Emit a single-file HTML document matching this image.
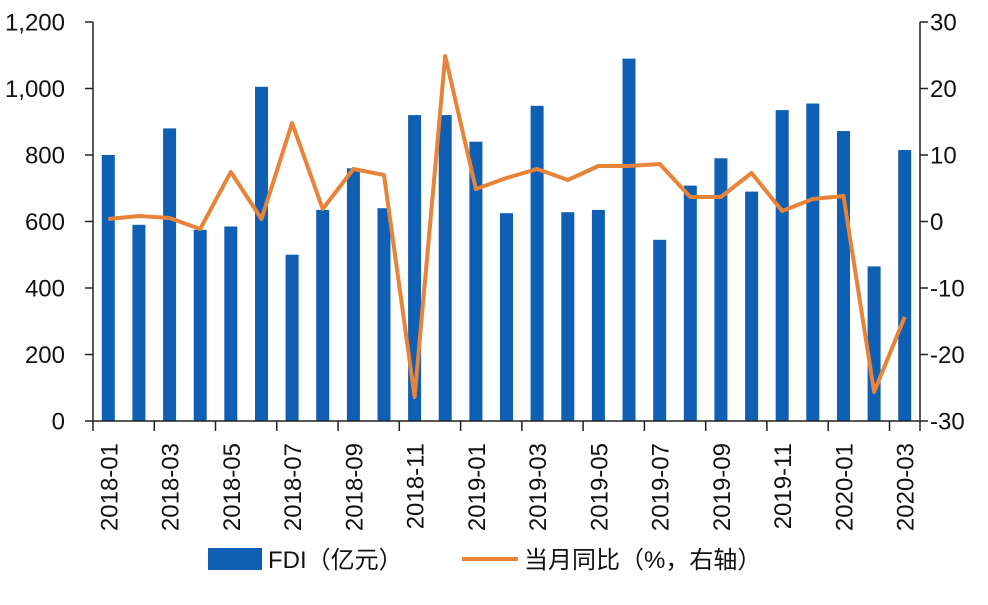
<!DOCTYPE html>
<html><head><meta charset="utf-8"><style>
body{margin:0;background:#fff;}
svg text{font-family:"Liberation Sans","Noto Sans CJK SC",sans-serif;fill:#111;}
</style></head><body>
<svg width="988" height="600" xmlns="http://www.w3.org/2000/svg">
<g fill="#0f5fb5">
<rect x="101.8" y="155.0" width="13" height="266.0"/>
<rect x="132.4" y="224.8" width="13" height="196.2"/>
<rect x="163.1" y="128.4" width="13" height="292.6"/>
<rect x="193.7" y="229.8" width="13" height="191.2"/>
<rect x="224.3" y="226.5" width="13" height="194.5"/>
<rect x="255.0" y="86.8" width="13" height="334.2"/>
<rect x="285.6" y="254.7" width="13" height="166.3"/>
<rect x="316.2" y="209.9" width="13" height="211.1"/>
<rect x="346.9" y="168.3" width="13" height="252.7"/>
<rect x="377.5" y="208.2" width="13" height="212.8"/>
<rect x="408.1" y="115.1" width="13" height="305.9"/>
<rect x="438.7" y="115.1" width="13" height="305.9"/>
<rect x="469.4" y="141.7" width="13" height="279.3"/>
<rect x="500.0" y="213.2" width="13" height="207.8"/>
<rect x="530.6" y="105.8" width="13" height="315.2"/>
<rect x="561.3" y="212.2" width="13" height="208.8"/>
<rect x="591.9" y="209.9" width="13" height="211.1"/>
<rect x="622.5" y="58.6" width="13" height="362.4"/>
<rect x="653.2" y="239.8" width="13" height="181.2"/>
<rect x="683.8" y="185.6" width="13" height="235.4"/>
<rect x="714.4" y="158.3" width="13" height="262.7"/>
<rect x="745.1" y="191.6" width="13" height="229.4"/>
<rect x="775.7" y="110.1" width="13" height="310.9"/>
<rect x="806.3" y="103.5" width="13" height="317.5"/>
<rect x="837.0" y="131.1" width="13" height="289.9"/>
<rect x="867.6" y="266.4" width="13" height="154.6"/>
<rect x="898.2" y="150.0" width="13" height="271.0"/>
</g>
<polyline fill="none" stroke="#e8833a" stroke-width="4" stroke-linejoin="round" points="108.3,219 138.9,216 169.6,218 200.2,229 230.8,172 261.5,219 292.1,123 322.7,209 353.4,169 384.0,175 414.6,397 445.2,56 475.9,189 506.5,178 537.1,169 567.8,180 598.4,166 629.0,166 659.7,164 690.3,197 720.9,197 751.6,173 782.2,211 812.8,199 843.5,196 874.1,392 904.7,317"/>
<g stroke="#222" stroke-width="1.5" fill="none">
<line x1="93" y1="22" x2="93" y2="421"/>
<line x1="920" y1="22" x2="920" y2="421"/>
<line x1="93" y1="421" x2="920" y2="421"/>
<path d="M85 421H93M85 354.5H93M85 288H93M85 221.5H93M85 155H93M85 88.5H93M85 22H93"/>
<path d="M920 421H928M920 354.5H928M920 288H928M920 221.5H928M920 155H928M920 88.5H928M920 22H928"/>
<path d="M93 421V431M154.3 421V431M215.5 421V431M276.8 421V431M338.1 421V431M399.3 421V431M460.6 421V431M521.9 421V431M583.1 421V431M644.4 421V431M705.7 421V431M766.9 421V431M828.2 421V431M889.5 421V431M920 421V431"/>
</g>
<g font-size="24" text-anchor="end">
<text x="65" y="429.5">0</text>
<text x="65" y="363">200</text>
<text x="65" y="296.5">400</text>
<text x="65" y="230">600</text>
<text x="65" y="163.5">800</text>
<text x="65" y="97">1,000</text>
<text x="65" y="30.5">1,200</text>
</g>
<g font-size="24">
<text x="930" y="429.5">-30</text>
<text x="930" y="363">-20</text>
<text x="930" y="296.5">-10</text>
<text x="930" y="230">0</text>
<text x="930" y="163.5">10</text>
<text x="930" y="97">20</text>
<text x="930" y="30.5">30</text>
</g>
<g font-size="24" text-anchor="end">
<text transform="translate(117.3,443) rotate(-90)">2018-01</text>
<text transform="translate(178.6,443) rotate(-90)">2018-03</text>
<text transform="translate(239.8,443) rotate(-90)">2018-05</text>
<text transform="translate(301.1,443) rotate(-90)">2018-07</text>
<text transform="translate(362.4,443) rotate(-90)">2018-09</text>
<text transform="translate(423.6,443) rotate(-90)">2018-11</text>
<text transform="translate(484.9,443) rotate(-90)">2019-01</text>
<text transform="translate(546.1,443) rotate(-90)">2019-03</text>
<text transform="translate(607.4,443) rotate(-90)">2019-05</text>
<text transform="translate(668.7,443) rotate(-90)">2019-07</text>
<text transform="translate(729.9,443) rotate(-90)">2019-09</text>
<text transform="translate(791.2,443) rotate(-90)">2019-11</text>
<text transform="translate(852.5,443) rotate(-90)">2020-01</text>
<text transform="translate(913.7,443) rotate(-90)">2020-03</text>
</g>
<rect x="208" y="548" width="54" height="22" fill="#0f5fb5"/>
<text x="268" y="568" font-size="24">FDI（亿元）</text>
<line x1="462" y1="559" x2="518" y2="559" stroke="#e8833a" stroke-width="4"/>
<text x="524" y="568" font-size="24">当月同比（%，右轴）</text>
</svg>
</body></html>
